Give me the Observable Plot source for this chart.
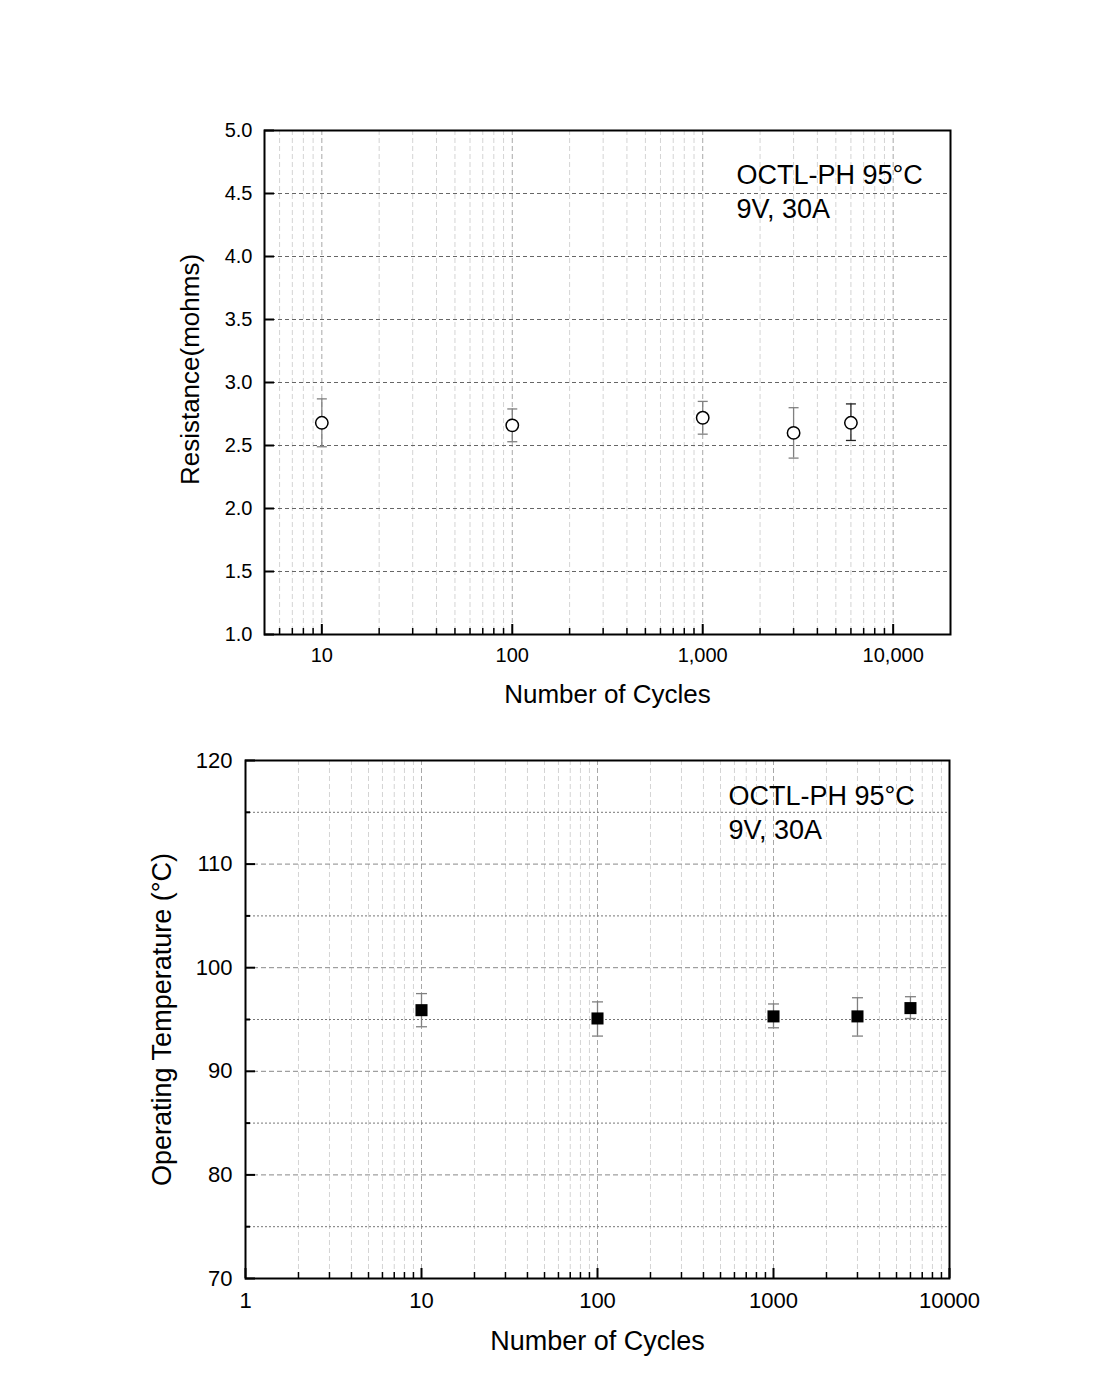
<!DOCTYPE html>
<html>
<head>
<meta charset="utf-8">
<script src="https://cdn.jsdelivr.net/npm/d3@7"></script>
<script src="https://cdn.jsdelivr.net/npm/@observablehq/plot@0.6"></script>
<style>
  html, body { margin: 0; padding: 0; background: white; }
  #chart { width: 1117px; height: 1375px; position: relative; }
  #chart svg { display: block; }
</style>
</head>
<body>
<div id="chart"></div>
<script>
// ---- data ----
const cycles = [10, 100, 1000, 3000, 6000];
const resistance   = [2.68, 2.66, 2.72, 2.60, 2.68];
const resistanceHi = [2.87, 2.79, 2.85, 2.80, 2.83];
const resistanceLo = [2.49, 2.53, 2.59, 2.40, 2.54];
const temperature   = [95.9, 95.1, 95.3, 95.3, 96.1];
const temperatureHi = [97.5, 96.7, 96.5, 97.1, 97.2];
const temperatureLo = [94.3, 93.4, 94.2, 93.4, 95.1];

const resTicks = [1.0, 1.5, 2.0, 2.5, 3.0, 3.5, 4.0, 4.5, 5.0];
const tempTicks = [70, 80, 90, 100, 110, 120];
const tempMinorTicks = [75, 85, 95, 105, 115];
const cycleTicksTop = [10, 100, 1000, 10000];
const cycleTicksBottom = [1, 10, 100, 1000, 10000];
const minorTop = [6, 7, 8, 9, 20, 30, 40, 50, 60, 70, 80, 90, 200, 300, 400, 500, 600, 700, 800, 900, 2000, 3000, 4000, 5000, 6000, 7000, 8000, 9000];
const minorBottom = [2, 3, 4, 5, 6, 7, 8, 9, 20, 30, 40, 50, 60, 70, 80, 90, 200, 300, 400, 500, 600, 700, 800, 900, 2000, 3000, 4000, 5000, 6000, 7000, 8000, 9000];

const xTitle = "Number of Cycles";
const yTitleTop = "Resistance(mohms)";
const yTitleBottom = "Operating Temperature (°C)";
const annotation = "OCTL-PH 95°C\n9V, 30A";

const resData = cycles.map((c, i) => ({x: c, y: resistance[i], lo: resistanceLo[i], hi: resistanceHi[i], i}));
const tempData = cycles.map((c, i) => ({x: c, y: temperature[i], lo: temperatureLo[i], hi: temperatureHi[i], i}));

// ---- styles ----
const font = "'Liberation Sans', Arial, Helvetica, sans-serif";
const capSymbol = {
  draw(context, size) {
    const r = Math.sqrt(size / Math.PI);
    context.moveTo(-r, 0);
    context.lineTo(r, 0);
  }
};

// ---- top chart ----
const T = {width: 1117, height: 720, mt: 130, mb: 86, ml: 264, mr: 167};
const TW = T.width - T.ml - T.mr, TH = T.height - T.mt - T.mb;
const barColorTop = (d) => d.i === 4 ? "#222" : "#808080";

const topPlot = Plot.plot({
  width: T.width, height: T.height,
  marginTop: T.mt, marginBottom: T.mb, marginLeft: T.ml, marginRight: T.mr,
  style: {fontFamily: font, fontSize: "20px", color: "black", background: "white", overflow: "visible"},
  x: {type: "log", domain: [5, 20000]},
  y: {type: "linear", domain: [1, 5]},
  marks: [
    Plot.ruleX(minorTop, {x: d => d, stroke: "#d4d4d4", strokeDasharray: "5,3"}),
    Plot.ruleX(cycleTicksTop, {x: d => d, stroke: "#a8a8a8", strokeDasharray: "5,3"}),
    Plot.ruleY(resTicks.slice(1, -1), {y: d => d, stroke: "#666", strokeDasharray: "4,3"}),
    Plot.ruleX(resData, {x: "x", y1: "lo", y2: "hi", stroke: barColorTop, strokeWidth: 1.3}),
    Plot.dot(resData, {x: "x", y: "hi", symbol: capSymbol, r: 5, fill: "none", stroke: barColorTop, strokeWidth: 1.3}),
    Plot.dot(resData, {x: "x", y: "lo", symbol: capSymbol, r: 5, fill: "none", stroke: barColorTop, strokeWidth: 1.3}),
    Plot.dot(resData, {x: "x", y: "y", r: 6.2, fill: "white", stroke: "black", strokeWidth: 1.5}),
    Plot.frame({stroke: "black", strokeWidth: 2}),
    Plot.tickX(minorTop, {x: d => d, insetTop: TH - 6, stroke: "black", strokeWidth: 1.5}),
    Plot.tickX(cycleTicksTop, {x: d => d, insetTop: TH - 10, stroke: "black", strokeWidth: 2}),
    Plot.tickY(resTicks, {y: d => d, insetRight: TW - 10, stroke: "black", strokeWidth: 2}),
    Plot.axisX({ticks: cycleTicksTop, tickFormat: d3.format(","), tickSize: 0, tickPadding: 13, label: null, fontSize: 20}),
    Plot.axisY({ticks: resTicks, tickFormat: d3.format(".1f"), tickSize: 0, tickPadding: 12, label: null, fontSize: 20}),
    Plot.text([xTitle], {text: d => d, frameAnchor: "bottom", dy: 50, lineAnchor: "top", fontSize: 26}),
    Plot.text([yTitleTop], {text: d => d, frameAnchor: "left", textAnchor: "middle", rotate: -90, dx: -74, dy: -13, lineAnchor: "middle", fontSize: 26}),
    Plot.text([annotation], {text: d => d, frameAnchor: "top-left", textAnchor: "start", lineAnchor: "top", dx: 472, dy: 29, fontSize: 27, lineHeight: 1.26})
  ]
});

// ---- bottom chart ----
const B = {width: 1117, height: 655, mt: 40, mb: 97, ml: 245, mr: 168};
const BW = B.width - B.ml - B.mr, BH = B.height - B.mt - B.mb;

const bottomPlot = Plot.plot({
  width: B.width, height: B.height,
  marginTop: B.mt, marginBottom: B.mb, marginLeft: B.ml, marginRight: B.mr,
  style: {fontFamily: font, fontSize: "22px", color: "black", background: "white", overflow: "visible"},
  x: {type: "log", domain: [1, 10000]},
  y: {type: "linear", domain: [70, 120]},
  marks: [
    Plot.ruleX(minorBottom, {x: d => d, stroke: "#d4d4d4", strokeDasharray: "5,3"}),
    Plot.ruleX(cycleTicksBottom.slice(1, -1), {x: d => d, stroke: "#a8a8a8", strokeDasharray: "5,3"}),
    Plot.ruleY(tempMinorTicks, {y: d => d, stroke: "#777", strokeDasharray: "2,2"}),
    Plot.ruleY(tempTicks.slice(1, -1), {y: d => d, stroke: "#888", strokeDasharray: "5,3"}),
    Plot.ruleX(tempData, {x: "x", y1: "lo", y2: "hi", stroke: "#808080", strokeWidth: 1.3}),
    Plot.dot(tempData, {x: "x", y: "hi", symbol: capSymbol, r: 5.5, fill: "none", stroke: "#808080", strokeWidth: 1.3}),
    Plot.dot(tempData, {x: "x", y: "lo", symbol: capSymbol, r: 5.5, fill: "none", stroke: "#808080", strokeWidth: 1.3}),
    Plot.dot(tempData, {x: "x", y: "y", symbol: "square", r: 6.8, fill: "black", stroke: "none"}),
    Plot.frame({stroke: "black", strokeWidth: 2}),
    Plot.tickX(minorBottom, {x: d => d, insetTop: BH - 6, stroke: "black", strokeWidth: 1.5}),
    Plot.tickX(cycleTicksBottom, {x: d => d, insetTop: BH - 10, stroke: "black", strokeWidth: 2}),
    Plot.tickY(tempMinorTicks, {y: d => d, insetRight: BW - 5, stroke: "black", strokeWidth: 2}),
    Plot.tickY(tempTicks, {y: d => d, insetRight: BW - 10, stroke: "black", strokeWidth: 2}),
    Plot.axisX({ticks: cycleTicksBottom, tickFormat: d => String(d), tickSize: 0, tickPadding: 14, label: null, fontSize: 22}),
    Plot.axisY({ticks: tempTicks, tickFormat: d => String(d), tickSize: 0, tickPadding: 13, label: null, fontSize: 22}),
    Plot.text([xTitle], {text: d => d, frameAnchor: "bottom", dy: 52, lineAnchor: "top", fontSize: 27}),
    Plot.text([yTitleBottom], {text: d => d, frameAnchor: "left", textAnchor: "middle", rotate: -90, dx: -83, dy: 0, lineAnchor: "middle", fontSize: 27}),
    Plot.text([annotation], {text: d => d, frameAnchor: "top-left", textAnchor: "start", lineAnchor: "top", dx: 483, dy: 21, fontSize: 27, lineHeight: 1.24})
  ]
});

const root = document.getElementById("chart");
root.appendChild(topPlot);
root.appendChild(bottomPlot);
</script>
</body>
</html>
